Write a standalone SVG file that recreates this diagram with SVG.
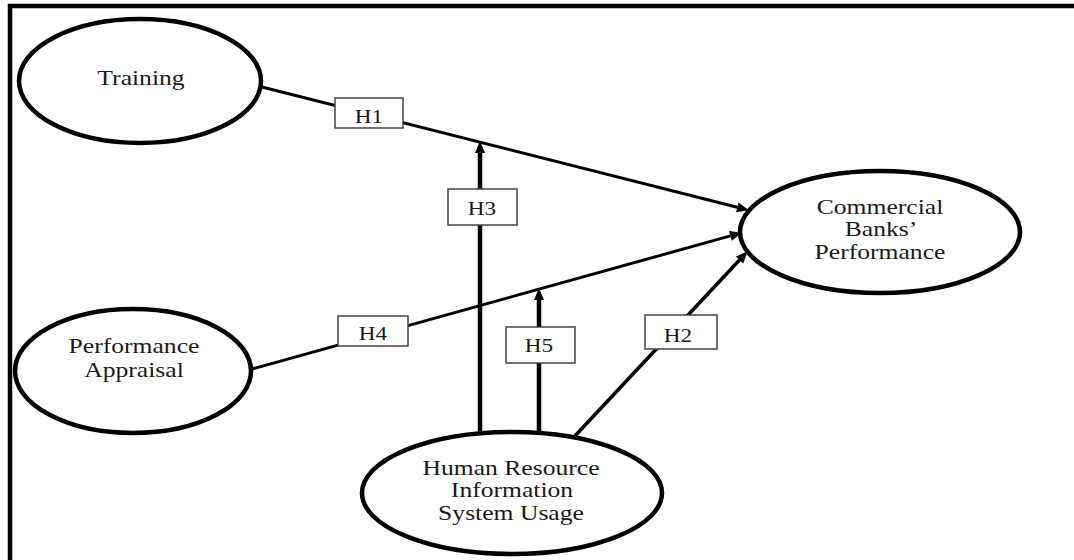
<svg xmlns="http://www.w3.org/2000/svg" width="1074" height="560" viewBox="0 0 1074 560">
  <defs>
    <marker id="arrow" markerUnits="userSpaceOnUse" viewBox="-1 -6 14 12" markerWidth="14" markerHeight="12" refX="0" refY="0" orient="auto">
      <path d="M0,-5 L12,0 L0,5 Z" fill="#000"/>
    </marker>
    <style>
      .frame { stroke: #000; stroke-width: 4.5; fill: none; }
      .node ellipse { fill: #fff; stroke: #000; stroke-width: 4.5; }
      .node text { font-family: "Liberation Serif", "Times New Roman", serif; font-size: 21px; fill: #1a1a1a; text-anchor: middle; }
      .conn { stroke: #000; fill: none; marker-end: url(#arrow); }
      .thin { stroke-width: 3; }
      .mid { stroke-width: 3.5; }
      .thick { stroke-width: 4.5; }
      .hyp rect { fill: #fff; stroke: #444; stroke-width: 1.5; }
      .hyp text { font-family: "Liberation Serif", "Times New Roman", serif; font-size: 19px; fill: #1a1a1a; text-anchor: middle; }
    </style>
  </defs>

  <rect width="1074" height="560" fill="#fff"/>

  <!-- outer frame: top and left edges only -->
  <g id="frame">
    <line class="frame" x1="8" y1="6" x2="1074" y2="6"/>
    <line class="frame" x1="10" y1="4" x2="10" y2="560"/>
  </g>

  <!-- connectors -->
  <g id="connectors">
    <line id="c-h1" class="conn thin" x1="262" y1="87" x2="737.3" y2="207.3"/>
    <line id="c-h4" class="conn thin" x1="252" y1="369" x2="730.4" y2="235.9"/>
    <line id="c-h2" class="conn mid" x1="574" y1="437" x2="739.5" y2="260"/>
    <line id="c-h3" class="conn thick" x1="480" y1="435" x2="480" y2="153"/>
    <line id="c-h5" class="conn thick" x1="539" y1="435" x2="539" y2="300"/>
  </g>

  <!-- hypothesis labels (glyphs widened horizontally) -->
  <g id="labels" class="hyp">
    <g id="h1"><rect x="335" y="98" width="68" height="30"/><text transform="translate(369 123) scale(1.22 1)">H1</text></g>
    <g id="h3"><rect x="448" y="189" width="69" height="36"/><text transform="translate(482 215) scale(1.22 1)">H3</text></g>
    <g id="h4"><rect x="338" y="316" width="70" height="30"/><text transform="translate(373 340) scale(1.22 1)">H4</text></g>
    <g id="h5"><rect x="506" y="327" width="69" height="36"/><text transform="translate(539 352) scale(1.22 1)">H5</text></g>
    <g id="h2"><rect x="645" y="315" width="72" height="34"/><text transform="translate(678 342) scale(1.22 1)">H2</text></g>
  </g>

  <!-- nodes -->
  <g id="training" class="node">
    <ellipse cx="140" cy="81" rx="121" ry="62"/>
    <text transform="translate(141 85) scale(1.22 1)">Training</text>
  </g>

  <g id="performance-appraisal" class="node">
    <ellipse cx="133" cy="371" rx="118" ry="62"/>
    <text transform="translate(134 353) scale(1.22 1)">Performance</text>
    <text transform="translate(134 377) scale(1.22 1)">Appraisal</text>
  </g>

  <g id="bank-performance" class="node">
    <ellipse cx="880" cy="232" rx="140" ry="61"/>
    <text transform="translate(880 214) scale(1.22 1)">Commercial</text>
    <text transform="translate(881 236) scale(1.22 1)">Banks’</text>
    <text transform="translate(880 259) scale(1.22 1)">Performance</text>
  </g>

  <g id="hris-usage" class="node">
    <ellipse cx="512" cy="493" rx="150" ry="61"/>
    <text transform="translate(511 475) scale(1.22 1)">Human Resource</text>
    <text transform="translate(512 497) scale(1.22 1)">Information</text>
    <text transform="translate(511 520) scale(1.22 1)">System Usage</text>
  </g>
</svg>
